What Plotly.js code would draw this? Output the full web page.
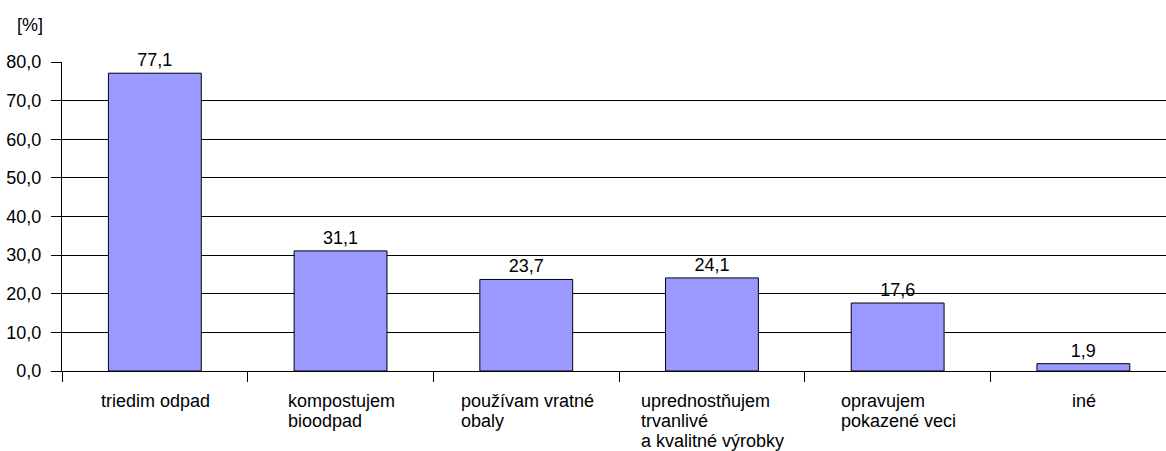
<!DOCTYPE html>
<html><head><meta charset="utf-8">
<script src="https://cdn.plot.ly/plotly-3.0.1.min.js"></script>
<style>html,body{margin:0;padding:0;background:#fff}</style>
</head><body>
<div id="chart" style="width:1166px;height:451px"></div>
<script>
const categories = [["triedim odpad"], ["kompostujem", "bioodpad"], ["používam vratné", "obaly"], ["uprednostňujem", "trvanlivé", "a kvalitné výrobky"], ["opravujem", "pokazené veci"], ["iné"]];
const values = [77.1, 31.1, 23.7, 24.1, 17.6, 1.9];
const yTicks = [0, 10, 20, 30, 40, 50, 60, 70, 80];
const yUnit = "[%]";

const FONT = "Liberation Sans, Arial, sans-serif";
const FS = 18;
const xs = categories.map((c, i) => i);

const trace = {
  type: "bar",
  x: xs,
  y: values,
  width: 0.5,
  marker: {color: "#9999FF", line: {color: "#000", width: 1}},
  texttemplate: "%{y:.1f}",
  textposition: "outside",
  cliponaxis: false,
  textfont: {family: FONT, size: FS, color: "#000"},
  hoverinfo: "none"
};

const ctx = document.createElement("canvas").getContext("2d");
ctx.font = FS + "px 'Liberation Sans'";

const annotations = [];
categories.forEach((lines, i) => {
  const w = Math.max(...lines.map(l => ctx.measureText(l).width));
  lines.forEach((line, j) => {
    annotations.push({
      x: i, y: 0, xref: "x", yref: "paper",
      text: line, showarrow: false,
      xanchor: "left", yanchor: "middle",
      xshift: -w / 2 - 1, yshift: -30 - 20 * j,
      font: {family: FONT, size: FS, color: "#000"}
    });
  });
});
annotations.push({
  x: 0, y: 1, xref: "paper", yref: "paper", xshift: -47, yshift: 37,
  text: yUnit, showarrow: false, xanchor: "left", yanchor: "middle",
  font: {family: FONT, size: FS, color: "#000"}
});

const layout = {
  width: 1166, height: 451,
  margin: {l: 62, r: 0, t: 62, b: 80, pad: 0},
  paper_bgcolor: "#fff", plot_bgcolor: "#fff",
  separators: ",.",
  showlegend: false,
  font: {family: FONT, size: FS, color: "#000"},
  xaxis: {
    range: [-0.5, 5.445],
    showgrid: false, zeroline: false,
    showline: true, linecolor: "#000", linewidth: 1,
    tickmode: "array", tickvals: [-0.5, 0.5, 1.5, 2.5, 3.5, 4.5],
    ticks: "outside", ticklen: 10, tickcolor: "#000", tickwidth: 1,
    showticklabels: false, fixedrange: true
  },
  yaxis: {
    range: [0, 80],
    tickmode: "array", tickvals: yTicks,
    tickformat: ".1f",
    showgrid: true, gridcolor: "#000", gridwidth: 1,
    zeroline: false,
    showline: true, linecolor: "#000", linewidth: 1,
    ticks: "outside", ticklen: 10, tickcolor: "#000", tickwidth: 1,
    ticklabelstandoff: 6,
    tickfont: {family: FONT, size: FS, color: "#000"},
    fixedrange: true
  },
  annotations: annotations
};

Plotly.newPlot("chart", [trace], layout, {displayModeBar: false, staticPlot: true});
</script>
</body></html>
